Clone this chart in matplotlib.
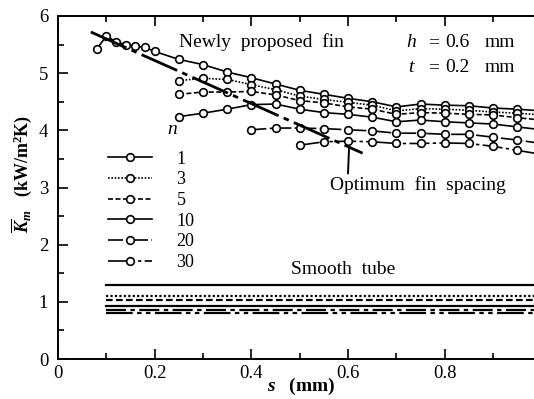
import matplotlib
matplotlib.use("Agg")
import matplotlib.pyplot as plt
from matplotlib.ticker import MultipleLocator

plt.rcParams['font.family'] = ['Liberation Serif', 'DejaVu Serif']
plt.rcParams['mathtext.fontset'] = 'custom'
plt.rcParams['mathtext.rm'] = 'Liberation Serif'
plt.rcParams['mathtext.it'] = 'Liberation Serif:italic'
plt.rcParams['mathtext.bf'] = 'Liberation Serif:bold'
plt.rcParams['mathtext.bfit'] = 'Liberation Serif:bold:italic'

# Fin spacing s (mm) and mean heat transfer coefficient K_m (kW/m^2K)
s_n1 = [0.08, 0.10, 0.12, 0.14, 0.16, 0.18, 0.20, 0.25, 0.30, 0.35, 0.40, 0.45,
        0.50, 0.55, 0.60, 0.65, 0.70, 0.75, 0.80, 0.85, 0.90, 0.95, 1.00]
k_n1 = [5.42, 5.65, 5.55, 5.50, 5.47, 5.45, 5.38, 5.24, 5.15, 5.02, 4.92, 4.81,
        4.70, 4.63, 4.56, 4.50, 4.41, 4.46, 4.44, 4.43, 4.39, 4.37, 4.34]

s_n3 = [0.25, 0.30, 0.35, 0.40, 0.45, 0.50, 0.55, 0.60, 0.65, 0.70, 0.75, 0.80,
        0.85, 0.90, 0.95, 1.00]
k_n3 = [4.87, 4.91, 4.89, 4.80, 4.71, 4.60, 4.54, 4.49, 4.44, 4.34, 4.38, 4.37,
        4.35, 4.32, 4.30, 4.27]

s_n5 = s_n3
k_n5 = [4.63, 4.67, 4.67, 4.68, 4.62, 4.52, 4.48, 4.41, 4.37, 4.28, 4.31, 4.30,
        4.28, 4.27, 4.22, 4.18]

s_n10 = s_n3
k_n10 = [4.24, 4.30, 4.37, 4.45, 4.46, 4.37, 4.31, 4.28, 4.23, 4.15, 4.18, 4.15,
         4.13, 4.11, 4.06, 4.01]

s_n20 = [0.40, 0.45, 0.50, 0.55, 0.60, 0.65, 0.70, 0.75, 0.80, 0.85, 0.90, 0.95, 1.00]
k_n20 = [4.01, 4.04, 4.04, 4.03, 4.01, 3.99, 3.95, 3.95, 3.93, 3.93, 3.88, 3.83, 3.77]

s_n30 = [0.50, 0.55, 0.60, 0.65, 0.70, 0.75, 0.80, 0.85, 0.90, 0.95, 1.00]
k_n30 = [3.74, 3.80, 3.81, 3.80, 3.77, 3.77, 3.78, 3.77, 3.72, 3.65, 3.58]

# Smooth tube reference levels for each n
smooth_s = [0.10, 1.00]
smooth_k = [1.29, 1.10, 1.04, 0.93, 0.86, 0.80]

# Optimum fin spacing line
opt_s = [0.068, 0.63]
opt_k = [5.72, 3.60]

labels = ['1', '3', '5', '10', '20', '30']
series_s = [s_n1, s_n3, s_n5, s_n10, s_n20, s_n30]
series_k = [k_n1, k_n3, k_n5, k_n10, k_n20, k_n30]
styles = ['-', (0, (1, 1)), (0, (3, 1.5)), '-', (0, (9, 2, 2, 2)), (0, (12, 2, 2, 2, 2, 2))]

fig = plt.figure(figsize=(5.34, 3.99), dpi=100)
ax = fig.add_axes([58 / 534, 40 / 399, 1 - 58 / 534, 343 / 399])

handles = []
for s, k, ls, lab in zip(series_s, series_k, styles, labels):
    h, = ax.plot(s, k, linestyle=ls, color='black', lw=1.2, marker='o', ms=5.5,
                 mfc='white', mec='black', mew=1.2, label=lab)
    handles.append(h)

for lvl, ls in zip(smooth_k, styles):
    ax.plot(smooth_s, [lvl, lvl], linestyle=ls, color='black', lw=1.6)

ax.plot(opt_s, opt_k, color='black', lw=2.0, linestyle=(0, (14, 2, 2, 2)))

ax.set_xlim(0, 0.9845)
ax.set_ylim(0, 6)
ax.xaxis.set_minor_locator(MultipleLocator(0.1))
ax.yaxis.set_major_locator(MultipleLocator(1))
ax.yaxis.set_minor_locator(MultipleLocator(0.5))
ax.set_xticks([0, 0.2, 0.4, 0.6, 0.8])
ax.set_xticklabels(['0', '0.2', '0.4', '0.6', '0.8'])
ax.tick_params(which='both', direction='in', top=True, right=False,
               labelsize=13.5, width=1.2)
ax.tick_params(which='major', length=7)
ax.tick_params(axis='x', which='major', pad=4)
ax.tick_params(axis='y', which='major', pad=7)
ax.tick_params(which='minor', length=4)
ax.spines['right'].set_visible(False)
for sp in ('left', 'bottom', 'top'):
    ax.spines[sp].set_linewidth(1.4)

ax.set_xlabel(r'$\mathbfit{s}\quad\mathbf{(mm)}$', fontsize=14)
ax.xaxis.set_label_coords(0.51, -0.05)
ax.xaxis.label.set_va('top')
ax.set_ylabel(r'$\overline{\mathbfit{K}}_{\mathbfit{m}}$   $\mathbf{(kW/m^{2}K)}$',
              fontsize=13)
ax.yaxis.set_label_coords(-0.05, 0.54)

fs = 14
ax.text(0.42, 5.54, 'Newly  proposed  fin', fontsize=fs, ha='center', va='center')
# Fin geometry
for row_y, sym, val in ((5.54, r'$h$', '0.6'), (5.10, r'$t$', '0.2')):
    ax.text(0.732, row_y, sym, fontsize=fs, ha='center', va='center')
    ax.text(0.776, row_y, '=', fontsize=fs, ha='center', va='center')
    ax.text(0.827, row_y, val, fontsize=fs, ha='center', va='center')
    ax.text(0.914, row_y, 'mm', fontsize=fs, ha='center', va='center')
ax.text(0.236, 4.02, r'$n$', fontsize=fs, ha='center', va='center')
ax.text(0.590, 1.56, 'Smooth  tube', fontsize=fs, ha='center', va='center')
ax.annotate('Optimum  fin  spacing', xy=(0.602, 3.70), xytext=(0.745, 3.04),
            fontsize=fs, ha='center', va='center',
            arrowprops=dict(arrowstyle='-', color='black', lw=1.4,
                            shrinkA=0, shrinkB=0,
                            relpos=(0.1, 1.0)))

ax.legend(handles=handles, loc='upper left', bbox_to_anchor=(0.105, 0.607),
          frameon=False, fontsize=13, handlelength=2.45, handletextpad=1.35,
          labelspacing=0.2, borderpad=0, borderaxespad=0)

fig.savefig('out.png', dpi=100)
